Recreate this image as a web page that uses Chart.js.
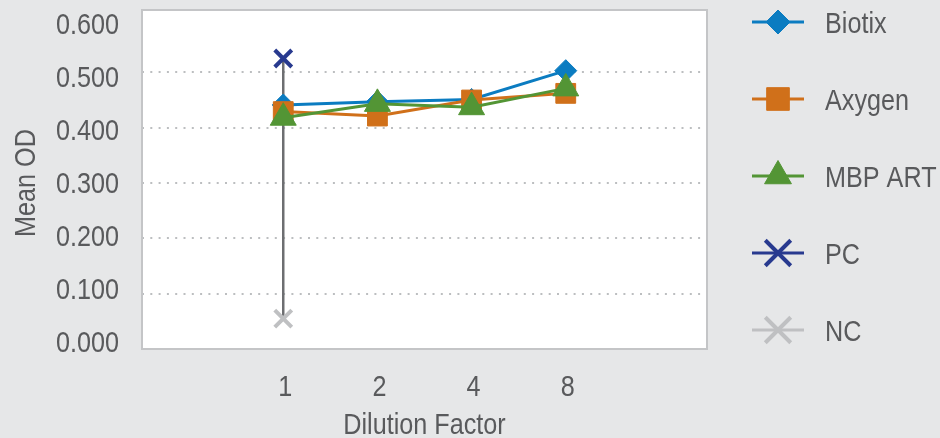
<!DOCTYPE html>
<html>
<head>
<meta charset="utf-8">
<script src="https://cdn.jsdelivr.net/npm/chart.js@4.4.1/dist/chart.umd.min.js"></script>
<style>
  body { margin: 0; background: #e6e7e8; }
  #wrap { width: 940px; height: 438px; }
</style>
</head>
<body>
<div id="wrap"><canvas id="od-chart" width="940" height="438"></canvas></div>
<script>
// categories on the x axis (blank ones pad both ends like the original)
const dilutions = ['', '1', '2', '4', '8', ''];

// mean OD per series
const biotix = [null, 0.441, 0.447, 0.451, 0.503, null];
const axygen = [null, 0.429, 0.421, 0.450, 0.462, null];
const mbpArt = [null, 0.418, 0.443, 0.437, 0.471, null];
const pcValue = [null, 0.525, null, null, null, null];
const ncValue = [null, 0.055, null, null, null, null];

const seriesNames = ['Biotix', 'Axygen', 'MBP ART', 'PC', 'NC'];
const yTicks = [0, 0.1, 0.2, 0.3, 0.4, 0.5, 0.6];
const xTitle = 'Dilution Factor';
const yTitle = 'Mean OD';

const FONT = "'Liberation Sans', Arial, sans-serif";
const TEXT = '#595a5c';
const NARROW = 0.84; // original uses a narrow face, squeeze horizontally

function narrowText(ctx, text, x, y, align, rotate) {
    ctx.save();
    ctx.translate(x, y);
    if (rotate) ctx.rotate(-Math.PI / 2);
    ctx.scale(NARROW, 1);
    ctx.font = '30px ' + FONT;
    ctx.fillStyle = TEXT;
    ctx.textAlign = align;
    ctx.textBaseline = 'alphabetic';
    ctx.fillText(text, 0, 0);
    ctx.restore();
}

// plot panel (white with grey frame), axis texts and legend
const panelPlugin = {
    id: 'panel',
    beforeDraw(chart) {
        const {ctx, chartArea: a} = chart;
        ctx.save();
        ctx.fillStyle = '#e6e7e8';
        ctx.fillRect(0, 0, chart.width, chart.height);
        ctx.fillStyle = '#ffffff';
        ctx.fillRect(a.left, a.top - 7, a.right - a.left, a.bottom - a.top + 7);
        ctx.restore();
    },
    beforeDatasetsDraw(chart) {
        const {ctx, chartArea: a} = chart;
        ctx.save();
        ctx.strokeStyle = '#c4c5c7';
        ctx.lineWidth = 2;
        ctx.strokeRect(a.left, a.top - 7, a.right - a.left, a.bottom - a.top + 7);
        ctx.restore();
    },
    afterDraw(chart) {
        const ctx = chart.ctx;
        const xs = chart.scales.x, ys = chart.scales.y;
        const a = chart.chartArea;

        // y tick labels (the original packs them slightly closer than the grid)
        const mid = ys.getPixelForValue(0.3);
        yTicks.forEach(v => {
            const py = mid + (ys.getPixelForValue(v) - mid) * 0.96;
            narrowText(ctx, v.toFixed(3), a.left - 23, py + 10, 'right');
        });
        // x tick labels
        dilutions.forEach((lab, i) => {
            if (lab) narrowText(ctx, lab, xs.getPixelForValue(i) + 2, 396, 'center');
        });
        // axis titles
        narrowText(ctx, xTitle, (a.left + a.right) / 2, 434, 'center');
        narrowText(ctx, yTitle, 35, (a.top + a.bottom) / 2, 'center', true);

        // legend
        ctx.save();
        chart.data.datasets.forEach(ds => {
            const row = seriesNames.indexOf(ds.label);
            if (row < 0) return;
            const y = 22 + row * 77;
            ctx.strokeStyle = ds.borderColor;
            ctx.lineWidth = 3;
            ctx.beginPath();
            ctx.moveTo(752, y);
            ctx.lineTo(804, y);
            ctx.stroke();
            ctx.fillStyle = ds.borderColor;
            ctx.strokeStyle = ds.borderColor;
            ctx.lineWidth = ds.pointBorderWidth;
            Chart.helpers.drawPoint(ctx, {
                pointStyle: ds.pointStyle,
                radius: ds.legendRadius,
                borderWidth: ds.pointBorderWidth
            }, 778, y);
            narrowText(ctx, ds.label, 825, y + 11, 'left');
        });
        ctx.restore();
    }
};

function series(label, data, color, style, radius, legendRadius, order) {
    return {
        label: label,
        data: data,
        borderColor: color,
        backgroundColor: color,
        pointBackgroundColor: color,
        pointBorderColor: color,
        pointStyle: style,
        pointRadius: radius,
        pointBorderWidth: style === 'crossRot' ? 4 : 1,
        legendRadius: legendRadius,
        borderWidth: 3,
        spanGaps: false,
        tension: 0,
        order: order
    };
}

const ctx = document.getElementById('od-chart').getContext('2d');

const chart = new Chart(ctx, {
    type: 'line',
    data: {
        labels: dilutions,
        datasets: [
            series('Biotix', biotix, '#0b7cc1', 'rectRot', 11, 12, 3),
            series('Axygen', axygen, '#d0701a', 'rect', 14, 16, 2),
            series('MBP ART', mbpArt, '#539535', 'triangle', 15, 15.5, 1),
            series('PC', pcValue, '#283a8f', 'crossRot', 12, 18, 0),
            series('NC', ncValue, '#bfc0c2', 'crossRot', 12, 18, 0),
            {
                // high-low connector between PC and NC at dilution 1
                label: 'range',
                data: [{x: '1', y: pcValue[1]}, {x: '1', y: ncValue[1]}],
                borderColor: '#6d6e71',
                borderWidth: 2.5,
                pointRadius: 0,
                order: 10
            }
        ]
    },
    options: {
        responsive: false,
        animation: false,
        layout: {
            padding: {top: 17, right: 233, left: 0, bottom: 0}
        },
        plugins: {
            legend: {display: false},
            tooltip: {enabled: false}
        },
        scales: {
            x: {
                offset: true,
                grid: {display: false, drawTicks: false},
                border: {display: false},
                ticks: {display: false},
                afterFit(scale) { scale.height = 89; }
            },
            y: {
                min: 0,
                max: 0.6,
                afterBuildTicks(scale) {
                    scale.ticks = yTicks.map(v => ({value: v}));
                },
                grid: {
                    drawTicks: false,
                    lineWidth: 2,
                    color: (c) => (c.tick && (c.tick.value === 0 || c.tick.value === 0.6)) ? 'rgba(0,0,0,0)' : '#bcbec0'
                },
                border: {display: false, dash: [2, 6.3]},
                ticks: {display: false},
                afterFit(scale) { scale.width = 142; }
            }
        }
    },
    plugins: [panelPlugin]
});
</script>
</body>
</html>
